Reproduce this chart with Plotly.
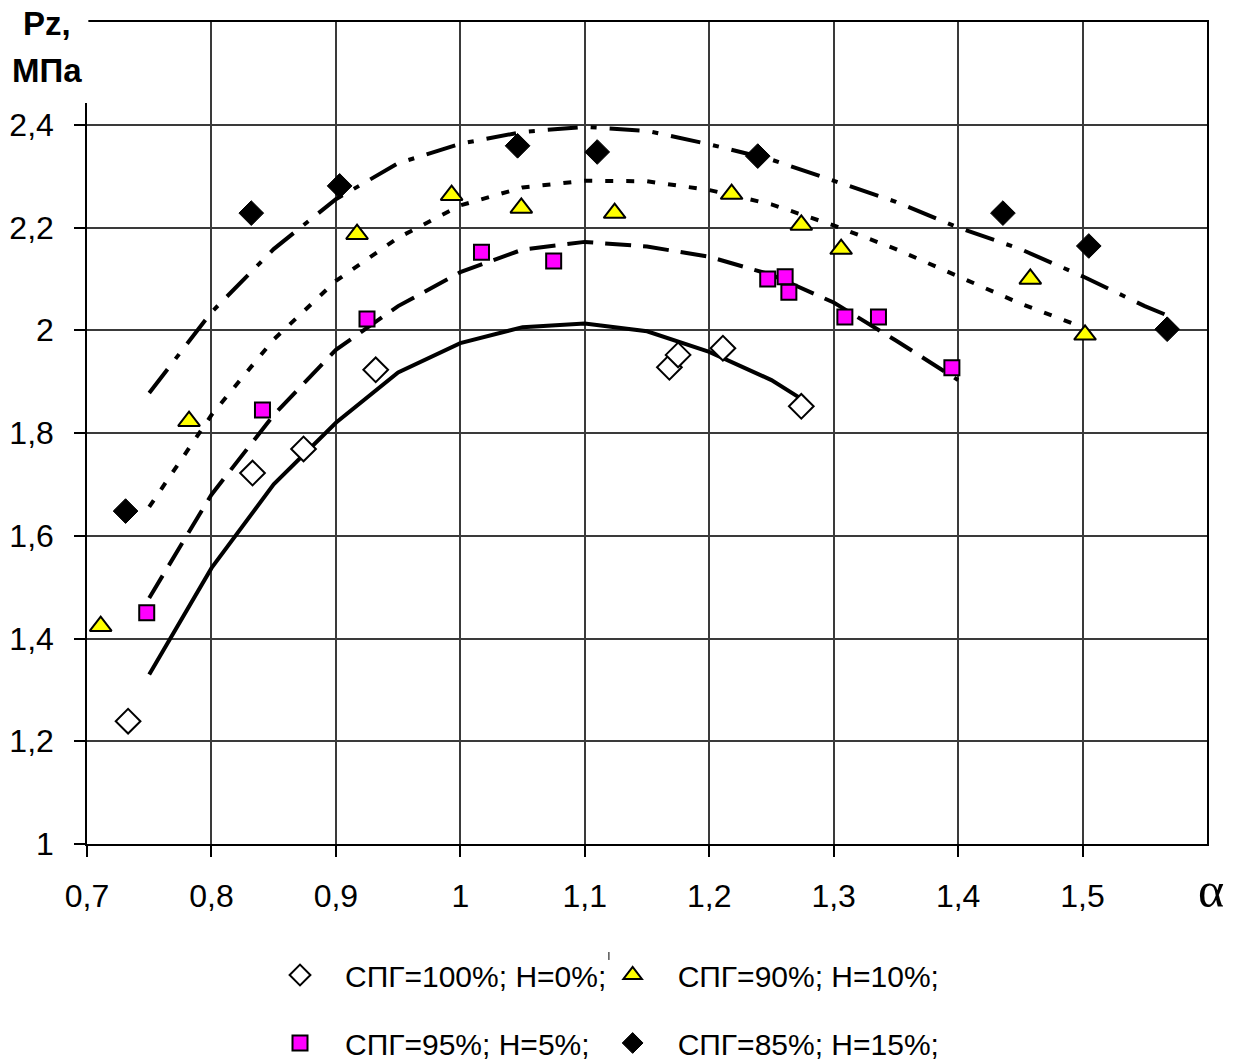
import plotly.graph_objects as go

# ---- data ----
x_tick_vals = [0.7, 0.8, 0.9, 1.0, 1.1, 1.2, 1.3, 1.4, 1.5]
x_tick_text = ["0,7", "0,8", "0,9", "1", "1,1", "1,2", "1,3", "1,4", "1,5"]
y_tick_vals = [1.0, 1.2, 1.4, 1.6, 1.8, 2.0, 2.2, 2.4]
y_tick_text = ["1", "1,2", "1,4", "1,6", "1,8", "2", "2,2", "2,4"]

names = ["СПГ=100%; Н=0%;", "СПГ=95%; Н=5%;", "СПГ=90%; Н=10%;", "СПГ=85%; Н=15%;"]

# measured points
x_100 = [0.733, 0.833, 0.874, 0.932, 1.168, 1.175, 1.211, 1.274]
y_100 = [1.239, 1.722, 1.769, 1.923, 1.928, 1.952, 1.965, 1.852]

x_95 = [0.748, 0.841, 0.925, 1.017, 1.075, 1.247, 1.261, 1.264, 1.309, 1.336, 1.395]
y_95 = [1.450, 1.845, 2.022, 2.152, 2.135, 2.100, 2.104, 2.074, 2.026, 2.026, 1.927]

x_90 = [0.711, 0.782, 0.917, 0.993, 1.049, 1.124, 1.218, 1.274, 1.306, 1.458, 1.502]
y_90 = [1.424, 1.823, 2.187, 2.263, 2.238, 2.228, 2.265, 2.205, 2.158, 2.100, 1.991]

x_85 = [0.731, 0.832, 0.903, 1.046, 1.110, 1.239, 1.436, 1.505, 1.568]
y_85 = [1.648, 2.228, 2.281, 2.359, 2.347, 2.339, 2.228, 2.164, 2.002]

# approximating curves
fit_x_100 = [0.75, 0.80, 0.85, 0.90, 0.95, 1.00, 1.05, 1.10, 1.15, 1.20, 1.25, 1.275]
fit_y_100 = [1.330, 1.537, 1.700, 1.820, 1.918, 1.975, 2.006, 2.013, 1.998, 1.958, 1.903, 1.865]

fit_x_95 = [0.75, 0.80, 0.85, 0.90, 0.95, 1.00, 1.05, 1.10, 1.15, 1.20, 1.25, 1.30, 1.35, 1.40]
fit_y_95 = [1.479, 1.680, 1.835, 1.962, 2.047, 2.113, 2.157, 2.172, 2.163, 2.143, 2.108, 2.054, 1.980, 1.903]

fit_x_90 = [0.75, 0.80, 0.85, 0.90, 0.95, 1.00, 1.05, 1.10, 1.15, 1.20, 1.25, 1.30, 1.35, 1.40, 1.45, 1.50]
fit_y_90 = [1.656, 1.835, 1.982, 2.096, 2.180, 2.243, 2.278, 2.291, 2.290, 2.273, 2.245, 2.204, 2.158, 2.105, 2.052, 2.006]

fit_x_85 = [0.75, 0.80, 0.85, 0.90, 0.95, 1.00, 1.05, 1.10, 1.15, 1.20, 1.25, 1.30, 1.35, 1.40, 1.45, 1.50, 1.55, 1.575]
fit_y_85 = [1.878, 2.035, 2.158, 2.255, 2.325, 2.363, 2.386, 2.396, 2.388, 2.362, 2.332, 2.290, 2.250, 2.200, 2.158, 2.105, 2.047, 2.022]

# ---- figure ----
fig = go.Figure()

line_w = 4
fig.add_trace(go.Scatter(x=fit_x_100, y=fit_y_100, mode="lines", showlegend=False,
                         line=dict(color="black", width=line_w), hoverinfo="skip"))
fig.add_trace(go.Scatter(x=fit_x_95, y=fit_y_95, mode="lines", showlegend=False,
                         line=dict(color="black", width=line_w, dash="26px,12px"), hoverinfo="skip"))
fig.add_trace(go.Scatter(x=fit_x_90, y=fit_y_90, mode="lines", showlegend=False,
                         line=dict(color="black", width=line_w, dash="8px,13px"), hoverinfo="skip"))
fig.add_trace(go.Scatter(x=fit_x_85, y=fit_y_85, mode="lines", showlegend=False,
                         line=dict(color="black", width=line_w, dash="30px,13px,6px,13px"), hoverinfo="skip"))

mk_line = dict(color="black", width=2)
fig.add_trace(go.Scatter(x=x_100, y=y_100, mode="markers", name=names[0], legend="legend",
                         legendgroup="g1",
                         marker=dict(symbol="diamond", size=19, color="white", line=mk_line)))
fig.add_trace(go.Scatter(x=x_95, y=y_95, mode="markers", name=names[1], legend="legend",
                         legendgroup="g2",
                         marker=dict(symbol="square", size=15, color="#FF00FF", line=mk_line)))
fig.add_trace(go.Scatter(x=x_90, y=y_90, mode="markers", name=names[2], legend="legend2",
                         legendgroup="g3",
                         marker=dict(symbol="triangle-up", size=19, color="#FFFF00", line=mk_line)))
fig.add_trace(go.Scatter(x=x_85, y=y_85, mode="markers", name=names[3], legend="legend2",
                         legendgroup="g4",
                         marker=dict(symbol="diamond", size=19, color="black", line=dict(color="black", width=1))))

grid_c = "#3a3a3a"
fig.update_xaxes(range=[0.7, 1.6], tickvals=x_tick_vals, ticktext=x_tick_text,
                 showgrid=True, gridcolor=grid_c, gridwidth=1.5,
                 showline=True, linecolor="black", linewidth=1.5, mirror=True,
                 ticks="outside", ticklen=11, tickwidth=1.5, tickcolor="black",
                 zeroline=False, ticklabelstandoff=12,
                 tickfont=dict(size=32, family="Liberation Sans, Arial", color="black"))
fig.update_yaxes(range=[1.0, 2.6], tickvals=y_tick_vals, ticktext=y_tick_text,
                 showgrid=True, gridcolor=grid_c, gridwidth=1.5,
                 showline=True, linecolor="black", linewidth=1.5, mirror=True,
                 ticks="outside", ticklen=11, tickwidth=1.5, tickcolor="black",
                 zeroline=False, ticklabelstandoff=14,
                 tickfont=dict(size=32, family="Liberation Sans, Arial", color="black"))

leg_font = dict(size=30, family="Liberation Sans, Arial", color="black")
leg_y = -0.1277
fig.update_layout(
    width=1240, height=1061,
    margin=dict(l=87, r=33, t=22, b=217, autoexpand=False),
    plot_bgcolor="white", paper_bgcolor="white",
    font=dict(family="Liberation Sans, Arial", size=32, color="black"),
    legend=dict(x=0.15, y=leg_y, xanchor="left", yanchor="top", orientation="v",
                itemwidth=80, tracegroupgap=26, font=leg_font,
                bgcolor="rgba(0,0,0,0)", borderwidth=0),
    legend2=dict(x=0.447, y=leg_y, xanchor="left", yanchor="top", orientation="v",
                 itemwidth=80, tracegroupgap=26, font=leg_font,
                 bgcolor="rgba(0,0,0,0)", borderwidth=0),
    shapes=[
        dict(type="rect", xref="paper", yref="paper", x0=-0.08, x1=0.0012, y0=0.9015, y1=1.03,
             fillcolor="white", line=dict(width=0), layer="above"),
        dict(type="line", xref="paper", yref="paper", x0=0.466, x1=0.466, y0=-0.1314, y1=-0.1411,
             line=dict(color="black", width=1)),
    ],
    annotations=[
        dict(text="<b>Pz,</b>", xref="paper", yref="paper", x=-0.0357, y=0.998,
             xanchor="center", yanchor="middle", showarrow=False,
             font=dict(size=33, family="Liberation Sans, Arial", color="black")),
        dict(text="<b>МПа</b>", xref="paper", yref="paper", x=-0.0357, y=0.9409,
             xanchor="center", yanchor="middle", showarrow=False,
             font=dict(size=33, family="Liberation Sans, Arial", color="black")),
        dict(text="α", xref="paper", yref="paper", x=1.0036, y=-0.0554,
             xanchor="center", yanchor="middle", showarrow=False,
             font=dict(size=50, family="Liberation Serif, Times New Roman, serif", color="black")),
    ],
)

fig.write_html("out.html")
